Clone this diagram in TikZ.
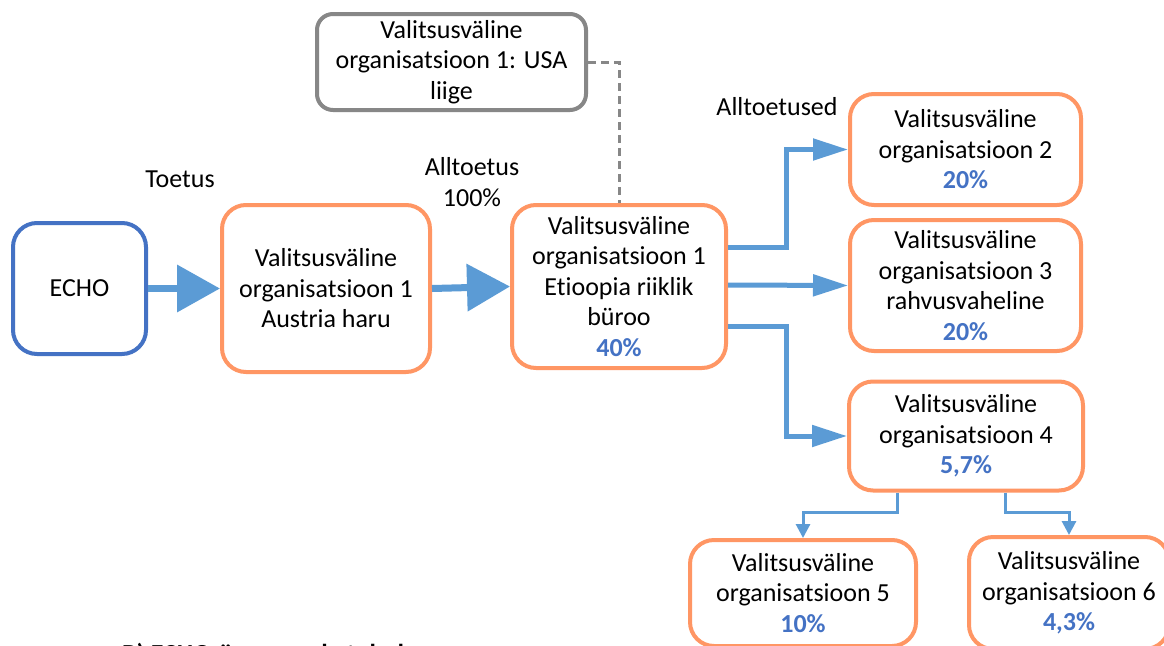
\documentclass[tikz,border=0pt]{standalone}
\usepackage{fontspec}
\setmainfont{Carlito}[Ligatures={NoCommon}]
\usetikzlibrary{arrows.meta}
\definecolor{boxorange}{RGB}{255,150,100}
\definecolor{boxblue}{RGB}{68,114,196}
\definecolor{arrblue}{RGB}{91,155,213}
\definecolor{pctblue}{RGB}{68,114,196}
\definecolor{boxgray}{RGB}{135,135,135}
\tikzset{
  txt/.style={font=\fontsize{26}{30.5}\selectfont, align=center, inner sep=0pt},
  orgbox/.style={txt, draw=boxorange, line width=4pt, rounded corners=24pt, fill=white},
  echobox/.style={txt, draw=boxblue, line width=4pt, rounded corners=24pt, fill=white},
  graybox/.style={txt, draw=boxgray, line width=4pt, rounded corners=16pt, fill=white},
  bigarrow/.style={draw=arrblue, line width=7pt, -{Triangle[length=43pt,width=46pt]}},
  midarrow/.style={draw=arrblue, line width=5pt, -{Triangle[length=35pt,width=21pt]}},
  smallarrow/.style={draw=arrblue, line width=3pt, -{Triangle[length=14pt,width=14pt]}},
  dashline/.style={draw=boxgray, line width=3pt, dash pattern=on 8pt off 5pt},
  lbl/.style={txt}
}
\newcommand{\pct}[1]{\textbf{\color{pctblue}#1}}
\begin{document}
\begin{tikzpicture}[x=1pt,y=-1pt]
\useasboundingbox (0,0) rectangle (1164,645);
\clip (0,0) rectangle (1164,645);
\fill[white] (0,0) rectangle (1164,645);

% boxes
\node[echobox, minimum width=133pt, minimum height=131pt] (echo) at (79.5,288.5) {ECHO};
\node[orgbox, minimum width=208pt, minimum height=167pt] (aus) at (326,288.5)
  {Valitsusväline\\organisatsioon 1\\Austria haru};
\node[orgbox, minimum width=214pt, minimum height=163pt] (eti) at (619,286.5)
  {Valitsusväline\\organisatsioon 1\\Etioopia riiklik\\büroo\\\pct{40\%}};
\node[graybox, minimum width=269pt, minimum height=96pt] (usa) at (451.5,62)
  {Valitsusväline\\organisatsioon 1: USA\\liige};
\node[orgbox, minimum width=231pt, minimum height=111pt] (b2) at (965.5,149.5)
  {Valitsusväline\\organisatsioon 2\\\pct{20\%}};
\node[orgbox, minimum width=231pt, minimum height=131pt] (b3) at (965.5,285.5)
  {Valitsusväline\\organisatsioon 3\\rahvusvaheline\\\pct{20\%}};
\node[orgbox, minimum width=234pt, minimum height=109pt] (b4) at (966,436)
  {Valitsusväline\\organisatsioon 4\\\pct{5,7\%}};
\node[orgbox, minimum width=226pt, minimum height=106pt] (b5) at (803,593)
  {Valitsusväline\\organisatsioon 5\\\pct{10\%}};
\node[orgbox, minimum width=200pt, minimum height=112pt] (b6) at (1069,593)
  {Valitsusväline\\organisatsioon 6\\\pct{4,3\%}};

% labels
\node[lbl] (ltoetus) at (180,179) {Toetus};
\node[lbl] (lalltoetus) at (472,182) {Alltoetus\\100\%};
\node[lbl] (lalltoetused) at (777,107) {Alltoetused};
\node[lbl, anchor=base west, font=\bfseries\fontsize{26}{30.5}\selectfont] (lbottom) at (122,662) {B) ECHO-ümarvaade tulud};

% connectors
\draw[bigarrow] (echo.east) -- (aus.west);
\draw[bigarrow] (aus.east) -- (eti.west);
\draw[dashline] (usa.east) -| (eti.north);
\draw[midarrow] ([yshift=39.5pt]eti.east) -- ++(58,0) |- (b2.west);
\draw[midarrow] ([yshift=1.5pt]eti.east) -- ([yshift=0pt]b3.west);
\draw[midarrow] ([yshift=-39.5pt]eti.east) -- ++(58,0) |- (b4.west);
\draw[smallarrow] ([xshift=-69pt]b4.south) -- ++(0,20) -| (b5.north);
\draw[smallarrow] ([xshift=39pt]b4.south) -- ++(0,20) -| (b6.north);
\end{tikzpicture}
\end{document}
